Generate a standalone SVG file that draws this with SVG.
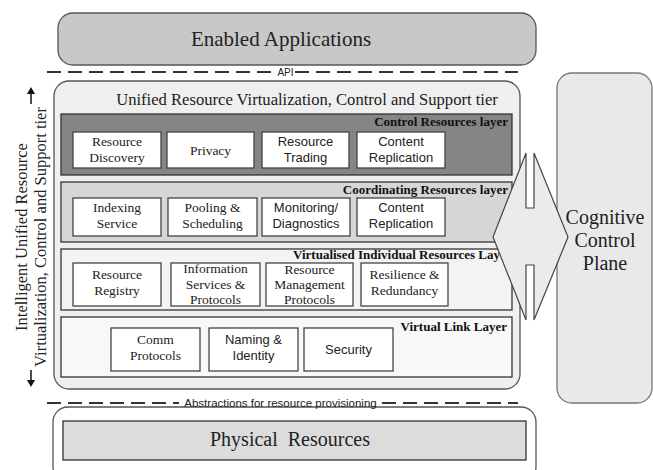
<svg xmlns="http://www.w3.org/2000/svg" width="653" height="470" viewBox="0 0 653 470">
<style>
.serif{font-family:"Liberation Serif","Times New Roman",serif;fill:#222}
.sans{font-family:"Liberation Sans",Arial,sans-serif;fill:#222}
.box{fill:#fff;stroke:#444;stroke-width:1.3}
.layer{stroke:#333;stroke-width:1.3}
.lbl{font-family:"Liberation Serif","Times New Roman",serif;font-weight:bold;font-size:13px;fill:#111;text-anchor:end}
.bt{font-size:13.5px;text-anchor:middle}
.bs{font-size:13px;text-anchor:middle}
.dash{stroke:#333;stroke-width:2;stroke-dasharray:14 7;fill:none}
</style>
<rect width="653" height="470" fill="#fff"/>

<g id="enabled-applications">
<rect x="58" y="13" width="478" height="52" rx="15" fill="#c8c8c8" stroke="#555" stroke-width="1.3"/>
<text class="serif" x="281" y="46" font-size="21" text-anchor="middle">Enabled Applications</text>
</g>

<g id="cognitive-control-plane">
<rect x="557" y="73" width="95" height="330" rx="15" fill="#e9e9e9" stroke="#777" stroke-width="1.3"/>
<text class="serif" x="605" y="224" font-size="20" text-anchor="middle">Cognitive</text>
<text class="serif" x="605" y="247" font-size="20" text-anchor="middle">Control</text>
<text class="serif" x="605" y="270" font-size="20" text-anchor="middle">Plane</text>
</g>

<g id="unified-tier">
<rect x="54" y="81" width="466" height="308" rx="15" fill="#efefef" stroke="#555" stroke-width="1.3"/>
<text class="serif" x="307" y="105" font-size="16.6" text-anchor="middle">Unified Resource Virtualization, Control and Support tier</text>
</g>

<g id="control-resources-layer">
<rect class="layer" x="61" y="114" width="451" height="61" fill="#858585"/>
<text class="lbl" x="508" y="126">Control Resources layer</text>
</g>
<g id="resource-discovery"><rect class="box" x="73" y="132" width="88" height="36"/><text class="serif bt" x="117" y="146">Resource</text><text class="serif bt" x="117" y="162">Discovery</text></g>
<g id="privacy"><rect class="box" x="167" y="132" width="87" height="36"/><text class="serif bt" x="210.5" y="155">Privacy</text></g>
<g id="resource-trading"><rect class="box" x="262" y="132" width="87" height="36"/><text class="sans bs" x="305.5" y="146">Resource</text><text class="sans bs" x="305.5" y="162">Trading</text></g>
<g id="content-replication-1"><rect class="box" x="357" y="132" width="88" height="36"/><text class="sans bs" x="401" y="146">Content</text><text class="sans bs" x="401" y="162">Replication</text></g>

<g id="coordinating-resources-layer">
<rect class="layer" x="61" y="182" width="451" height="60" fill="#d6d6d6"/>
<text class="lbl" x="508" y="194">Coordinating Resources layer</text>
</g>
<g id="indexing-service"><rect class="box" x="73" y="198" width="88" height="38"/><text class="serif bt" x="117" y="212">Indexing</text><text class="serif bt" x="117" y="228">Service</text></g>
<g id="pooling-scheduling"><rect class="box" x="168" y="198" width="89" height="38"/><text class="serif bt" x="212.5" y="212">Pooling &amp;</text><text class="serif bt" x="212.5" y="228">Scheduling</text></g>
<g id="monitoring-diagnostics"><rect class="box" x="262" y="198" width="88" height="38"/><text class="sans bs" x="306" y="212">Monitoring/</text><text class="sans bs" x="306" y="228">Diagnostics</text></g>
<g id="content-replication-2"><rect class="box" x="357" y="198" width="88" height="38"/><text class="sans bs" x="401" y="212">Content</text><text class="sans bs" x="401" y="228">Replication</text></g>

<g id="virtualised-individual-resources-layer">
<rect class="layer" x="61" y="249" width="451" height="61" fill="#f3f3f3"/>
<text class="lbl" x="500" y="258.5">Virtualised Individual Resources Lay</text>
</g>
<g id="resource-registry"><rect class="box" x="73" y="263" width="88" height="43"/><text class="serif bt" x="117" y="279">Resource</text><text class="serif bt" x="117" y="295">Registry</text></g>
<g id="information-services"><rect class="box" x="171" y="263" width="89" height="43"/><text class="serif bt" x="215.5" y="273">Information</text><text class="serif bt" x="215.5" y="288.5">Services &amp;</text><text class="serif bt" x="215.5" y="304">Protocols</text></g>
<g id="resource-management"><rect class="box" x="266" y="263" width="87" height="43"/><text class="serif bt" x="309.5" y="273.5">Resource</text><text class="serif bt" x="309.5" y="288.5">Management</text><text class="serif bt" x="309.5" y="304">Protocols</text></g>
<g id="resilience-redundancy"><rect class="box" x="361" y="263" width="87" height="43"/><text class="serif bt" x="404.5" y="279">Resilience &amp;</text><text class="serif bt" x="404.5" y="295">Redundancy</text></g>

<g id="virtual-link-layer">
<rect class="layer" x="61" y="317" width="451" height="60" fill="#f8f8f8"/>
<text class="lbl" x="507" y="331">Virtual Link Layer</text>
</g>
<g id="comm-protocols"><rect class="box" x="111" y="328" width="89" height="43"/><text class="serif bt" x="155.5" y="344">Comm</text><text class="serif bt" x="155.5" y="360">Protocols</text></g>
<g id="naming-identity"><rect class="box" x="209" y="328" width="89" height="43"/><text class="sans bs" x="253.5" y="344">Naming &amp;</text><text class="sans bs" x="253.5" y="360">Identity</text></g>
<g id="security"><rect class="box" x="304" y="328" width="89" height="43"/><text class="sans bs" x="348.5" y="354">Security</text></g>

<g id="physical-resources">
<rect x="53" y="407" width="483" height="75" rx="15" fill="#fff" stroke="#555" stroke-width="1.3"/>
<rect x="63" y="421" width="463" height="39" fill="#dcdcdc" stroke="#333" stroke-width="1.3"/>
<text class="serif" x="290" y="446" font-size="20" text-anchor="middle">Physical&#160; Resources</text>
</g>

<g id="tier-label">
<text class="serif" transform="translate(27,237) rotate(-90)" font-size="16.5" text-anchor="middle">Intelligent Unified Resource</text>
<text class="serif" transform="translate(46,237) rotate(-90)" font-size="16.5" text-anchor="middle">Virtualization, Control and Support tier</text>
</g>

<g id="connectors">
<path class="dash" d="M47 72 H276"/>
<path class="dash" d="M295 72 H518"/>
<text class="sans" x="285.5" y="75.5" font-size="10" text-anchor="middle">API</text>
<path class="dash" d="M47 403 H179"/>
<path class="dash" d="M382 403 H518"/>
<text class="sans" x="280.5" y="407" font-size="11.5" text-anchor="middle">Abstractions for resource provisioning</text>
<polygon points="526,153 526,208 534,208 534,153 568,237 534,320 534,265 526,265 526,320 493,237" fill="#ebebeb" stroke="#444" stroke-width="1.2" stroke-linejoin="miter"/>
<path d="M31 104 V92" stroke="#111" stroke-width="1.5"/>
<polygon points="27,94 31,87 35,94" fill="#111"/>
<path d="M31 370 V382" stroke="#111" stroke-width="1.5"/>
<polygon points="27,380 31,387 35,380" fill="#111"/>
</g>
</svg>
